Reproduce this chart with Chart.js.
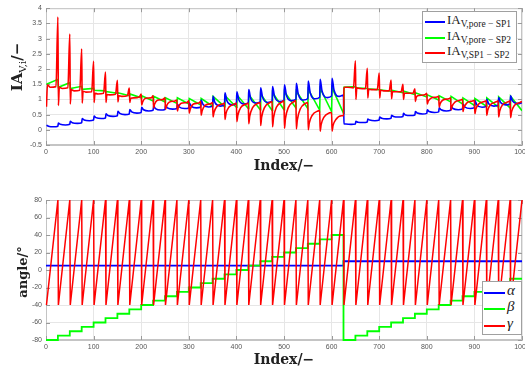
<!DOCTYPE html>
<html>
<head>
<meta charset="utf-8">
<script src="https://cdn.jsdelivr.net/npm/chart.js@4.4.1/dist/chart.umd.min.js"></script>
<style>
  html, body { margin: 0; padding: 0; background: #fff; }
  #page { position: relative; width: 525px; height: 372px; overflow: hidden; }
  canvas { position: absolute; left: 0; }
  #topChart { top: 0; }
  #botChart { top: 180px; }
  .title { position: absolute; font-family: "DejaVu Serif", serif; font-weight: bold; font-size: 14px; color: #222; white-space: nowrap; transform: translate(-50%, -50%); }
  .title sub { font-weight: normal; font-size: 10px; }
  .ytitle { transform: translate(-50%, -50%) rotate(-90deg); }
  .legend { position: absolute; background: #fff; border: 1px solid #a0a0a0; box-sizing: border-box; }
  .legend .ln { position: absolute; height: 2px; }
  .legend .tx { position: absolute; font-family: "Liberation Serif", serif; font-size: 13px; line-height: 13px; color: #222; white-space: nowrap; }
  .legend .tx sub { font-size: 9.5px; vertical-align: -3px; line-height: 0; }
  .legend .gr { font-style: italic; font-size: 15px; }
</style>
</head>
<body>
<div id="page">
  <canvas id="topChart" width="545" height="160"></canvas>
  <canvas id="botChart" width="545" height="175"></canvas>

  <div class="title" style="left:284px;top:165px">Index/−</div>
  <div class="title ytitle" style="left:18px;top:67px;font-size:15px">IA<sub>V,i</sub>/−</div>
  <div class="title" style="left:284px;top:359px">Index/−</div>
  <div class="title ytitle" style="left:22px;top:272px;font-size:13px">angle/°</div>

  <div class="legend" style="left:422px;top:11px;width:95px;height:52px">
    <div class="ln" style="left:2px;top:9px;width:20px;background:#0000ff"></div>
    <div class="tx" style="left:24px;top:1px">IA<sub>V,pore − SP1</sub></div>
    <div class="ln" style="left:2px;top:25px;width:20px;background:#00ff00"></div>
    <div class="tx" style="left:24px;top:17px">IA<sub>V,pore − SP2</sub></div>
    <div class="ln" style="left:2px;top:40px;width:20px;background:#ff0000"></div>
    <div class="tx" style="left:24px;top:32px">IA<sub>V,SP1 − SP2</sub></div>
  </div>

  <div class="legend" style="left:482px;top:281px;width:40px;height:54px">
    <div class="ln" style="left:1px;top:10px;width:21px;background:#0000ff"></div>
    <div class="tx gr" style="left:24px;top:2px">α</div>
    <div class="ln" style="left:1px;top:26px;width:21px;background:#00ff00"></div>
    <div class="tx gr" style="left:24px;top:18px">β</div>
    <div class="ln" style="left:1px;top:43px;width:21px;background:#ff0000"></div>
    <div class="tx gr" style="left:24px;top:35px">γ</div>
  </div>
</div>

<script>
/* ---------- data: one entry per 25-step cycle ---------- */
const cycleStarts = [0, 25, 50, 75, 100, 125, 150, 175, 200, 225, 250, 275, 300, 325, 350, 375, 400, 425, 450, 475,
  500, 525, 550, 575, 600, 625, 650, 675, 700, 725, 750, 775, 800, 825, 850, 875, 900, 925, 950, 975];

// IA_V,SP1-SP2 (red): after the drop, recovering, mid cycle, late cycle, peak at cycle end
const redLow = [0.76, 0.80, 0.85, 0.88, 0.90, 0.90, 0.92, 0.90, 0.82, 0.72, 0.68, 0.62, 0.55, 0.48, 0.42, 0.34, 0.27, 0.20, 0.14, 0.10,
  0.05, 0.03, 0.00, -0.05, -0.04, 1.37, 1.00, 1.05, 1.05, 1.02, 1.00, 0.93, 0.85, 0.75, 0.65, 0.60, 0.53, 0.47, 0.42, 0.40];
const redRec = [1.48, 1.40, 1.32, 1.27, 1.20, 1.16, 1.12, 1.04, 0.92, 0.84, 0.78, 0.74, 0.68, 0.63, 0.58, 0.53, 0.48, 0.45, 0.42, 0.40,
  0.37, 0.33, 0.22, 0.17, 0.14, 1.40, 1.38, 1.33, 1.30, 1.25, 1.20, 1.08, 0.94, 0.86, 0.77, 0.73, 0.68, 0.64, 0.61, 0.59];
const redMid = [1.40, 1.36, 1.28, 1.24, 1.18, 1.15, 1.10, 1.05, 1.04, 0.97, 0.91, 0.87, 0.84, 0.80, 0.77, 0.74, 0.73, 0.73, 0.73, 0.74,
  0.73, 0.68, 0.47, 0.42, 0.34, 1.40, 1.36, 1.32, 1.28, 1.25, 1.20, 1.13, 1.04, 0.98, 0.91, 0.88, 0.85, 0.83, 0.82, 0.80];
const redPre = [1.42, 1.38, 1.30, 1.25, 1.20, 1.17, 1.12, 1.08, 1.05, 1.00, 0.95, 0.90, 0.88, 0.86, 0.85, 0.85, 0.85, 0.88, 0.90, 0.92,
  0.93, 0.88, 0.62, 0.56, 0.46, 1.38, 1.35, 1.32, 1.28, 1.25, 1.20, 1.15, 1.08, 1.02, 0.98, 0.95, 0.93, 0.92, 0.92, 0.90];
const redTop = [3.71, 3.15, 2.66, 2.25, 1.90, 1.63, 1.37, 1.18, 1.12, 1.05, 0.98, 0.95, 0.93, 0.90, 0.88, 0.88, 0.88, 0.90, 0.93, 0.95,
  0.96, 0.90, 0.63, 0.57, 0.47, 2.27, 2.02, 1.87, 1.64, 1.50, 1.35, 1.20, 1.10, 1.05, 1.00, 0.97, 0.95, 0.95, 0.95, 0.93];

// IA_V,pore-SP2 (green): start and end of each cycle
const greenStart = [1.50, 1.40, 1.36, 1.33, 1.30, 1.26, 1.22, 1.18, 1.12, 1.10, 1.05, 1.05, 1.03, 1.03, 1.10, 1.12, 1.15, 1.16, 1.18, 1.22,
  1.25, 1.27, 1.33, 1.36, 1.38, 1.40, 1.38, 1.35, 1.32, 1.30, 1.27, 1.22, 1.15, 1.12, 1.10, 1.05, 1.03, 1.05, 1.08, 1.10];
const greenEnd = [1.66, 1.55, 1.43, 1.36, 1.28, 1.20, 1.12, 1.05, 0.95, 0.92, 0.87, 0.85, 0.82, 0.78, 0.76, 0.74, 0.70, 0.66, 0.64, 0.66,
  0.72, 0.70, 0.65, 0.60, 0.55, 1.42, 1.36, 1.32, 1.27, 1.22, 1.16, 1.08, 0.98, 0.92, 0.85, 0.80, 0.78, 0.75, 0.72, 0.63];

// IA_V,pore-SP1 (blue): peak after the jump, decay, trough, value at cycle end
const bluePeak = [0.15, 0.22, 0.28, 0.37, 0.45, 0.53, 0.61, 0.67, 0.74, 0.78, 0.80, 0.84, 0.88, 0.98, 1.10, 1.22, 1.25, 1.32, 1.38, 1.42,
  1.48, 1.53, 1.60, 1.66, 1.69, 0.20, 0.28, 0.35, 0.42, 0.48, 0.54, 0.60, 0.66, 0.72, 0.78, 0.84, 0.96, 1.00, 1.06, 1.12];
const blueMid = [0.12, 0.18, 0.235, 0.325, 0.40, 0.47, 0.54, 0.59, 0.66, 0.70, 0.72, 0.75, 0.78, 0.83, 0.89, 0.96, 0.99, 1.03, 1.07, 1.10,
  1.14, 1.17, 1.22, 1.27, 1.31, 0.19, 0.25, 0.32, 0.38, 0.44, 0.49, 0.55, 0.60, 0.66, 0.70, 0.75, 0.82, 0.86, 0.90, 0.95];
const blueLow = [0.10, 0.16, 0.21, 0.30, 0.37, 0.44, 0.50, 0.55, 0.62, 0.65, 0.68, 0.70, 0.72, 0.75, 0.78, 0.82, 0.85, 0.88, 0.90, 0.93,
  0.96, 0.98, 1.02, 1.06, 1.10, 0.18, 0.24, 0.30, 0.36, 0.42, 0.47, 0.52, 0.57, 0.62, 0.66, 0.70, 0.74, 0.78, 0.82, 0.86];
const blueEnd = [0.12, 0.18, 0.23, 0.32, 0.39, 0.46, 0.52, 0.57, 0.64, 0.67, 0.70, 0.72, 0.75, 0.78, 0.82, 0.86, 0.89, 0.92, 0.94, 0.97,
  1.00, 1.03, 1.07, 1.11, 1.14, 0.19, 0.26, 0.32, 0.38, 0.44, 0.49, 0.54, 0.59, 0.64, 0.69, 0.73, 0.77, 0.81, 0.85, 0.89];

// angles (deg), held constant over each cycle
const alphaDeg = [5, 5, 5, 5, 5, 5, 5, 5, 5, 5, 5, 5, 5, 5, 5, 5, 5, 5, 5, 5,
  5, 5, 5, 5, 5, 10, 10, 10, 10, 10, 10, 10, 10, 10, 10, 10, 10, 10, 10, 10];
const betaDeg = [-80, -75, -70, -65, -60, -55, -50, -45, -40, -35, -30, -25, -20, -15, -10, -5, 0, 5, 10, 15,
  20, 25, 30, 35, 40, -80, -75, -70, -65, -60, -55, -50, -45, -40, -35, -30, -25, -20, -15, -10];
const gammaLow = -40, gammaHigh = 80;   // gamma sweeps -40 -> 80 inside every cycle

// axes
const indexTicks = [0, 100, 200, 300, 400, 500, 600, 700, 800, 900, 1000];
const iaTicks = [-0.5, 0, 0.5, 1, 1.5, 2, 2.5, 3, 3.5, 4];
const angleTicks = [-80, -60, -40, -20, 0, 20, 40, 60, 80];
const indexEnd = 1000;

/* ---------- build points ---------- */
const redPts = [], greenPts = [], bluePts = [];
const alphaPts = [], betaPts = [], gammaPts = [];
cycleStarts.forEach((b, k) => {
  redPts.push({ x: b + 1, y: redLow[k] }, { x: b + 3, y: redRec[k] }, { x: b + 9, y: redMid[k] },
              { x: b + 21, y: redPre[k] }, { x: b + 25, y: redTop[k] });
  greenPts.push({ x: b + 1, y: greenStart[k] }, { x: b + 25, y: greenEnd[k] });
  bluePts.push({ x: b + 1, y: bluePeak[k] }, { x: b + 5, y: blueMid[k] }, { x: b + 16, y: blueLow[k] }, { x: b + 25, y: blueEnd[k] });
  alphaPts.push({ x: b, y: alphaDeg[k] });
  betaPts.push({ x: b, y: betaDeg[k] });
  gammaPts.push({ x: b + 1, y: gammaLow }, { x: b + 25, y: gammaHigh });
});
alphaPts.push({ x: indexEnd, y: alphaDeg[alphaDeg.length - 1] });
betaPts.push({ x: indexEnd, y: betaDeg[betaDeg.length - 1] });

/* ---------- shared look ---------- */
const tickFont = { family: '"Liberation Sans", Arial, sans-serif', size: 7 };
const tickColor = '#555';
const gridColor = '#e6e6e6';

// MATLAB-ish box with inward ticks, drawn under the lines
const boxFrame = {
  id: 'boxFrame',
  beforeDatasetsDraw(chart) {
    const { ctx, chartArea: a, scales } = chart;
    ctx.save();
    ctx.strokeStyle = '#c4c4c4';
    ctx.lineWidth = 1;
    ctx.strokeRect(a.left + 0.5, a.top + 0.5, a.right - a.left - 1, a.bottom - a.top - 1);
    ctx.strokeStyle = '#9a9a9a';
    ctx.beginPath();
    scales.x.ticks.forEach(t => {
      const px = Math.round(scales.x.getPixelForValue(t.value)) + 0.5;
      ctx.moveTo(px, a.bottom); ctx.lineTo(px, a.bottom - 4);
      ctx.moveTo(px, a.top); ctx.lineTo(px, a.top + 4);
    });
    scales.y.ticks.forEach(t => {
      const py = Math.round(scales.y.getPixelForValue(t.value)) + 0.5;
      ctx.moveTo(a.left, py); ctx.lineTo(a.left + 4, py);
      ctx.moveTo(a.right, py); ctx.lineTo(a.right - 4, py);
    });
    ctx.stroke();
    ctx.restore();
  }
};

function axisX() {
  return {
    type: 'linear', min: 0, max: indexEnd,
    afterBuildTicks: s => { s.ticks = indexTicks.map(v => ({ value: v })); },
    afterFit: s => { s.height = 15; },
    ticks: { font: tickFont, color: tickColor, padding: 3, maxRotation: 0, autoSkip: false, callback: v => String(v) },
    grid: { color: gridColor, drawTicks: false },
    border: { color: '#c4c4c4' }
  };
}
function axisY(min, max, list) {
  return {
    min, max,
    afterBuildTicks: s => { s.ticks = list.map(v => ({ value: v })); },
    afterFit: s => { s.width = 46; },
    ticks: { font: tickFont, color: tickColor, padding: 4, autoSkip: false, callback: v => String(v) },
    grid: { color: gridColor, drawTicks: false },
    border: { color: '#c4c4c4' }
  };
}
const baseOpts = {
  responsive: false,
  animation: false,
  devicePixelRatio: 1,
  events: [],
  plugins: { legend: { display: false }, tooltip: { enabled: false } },
  elements: { point: { radius: 0 } }
};

/* ---------- top: IA ---------- */
new Chart(document.getElementById('topChart'), {
  type: 'line',
  data: {
    datasets: [
      { label: 'IA V,pore-SP1', data: bluePts, borderColor: '#0000ff', borderWidth: 1.6, cubicInterpolationMode: 'monotone', order: 1 },
      { label: 'IA V,pore-SP2', data: greenPts, borderColor: '#00ff00', borderWidth: 1.6, tension: 0, order: 2 },
      { label: 'IA V,SP1-SP2', data: redPts, borderColor: '#ff0000', borderWidth: 1.6, cubicInterpolationMode: 'monotone', order: 0 }
    ]
  },
  options: {
    ...baseOpts,
    layout: { padding: { left: 0, right: 23, top: 6, bottom: 0 } },
    scales: { x: axisX(), y: axisY(-0.5, 4, iaTicks) }
  },
  plugins: [boxFrame]
});

/* ---------- bottom: angles ---------- */
new Chart(document.getElementById('botChart'), {
  type: 'line',
  data: {
    datasets: [
      { label: 'alpha', data: alphaPts, borderColor: '#0000ff', borderWidth: 1.8, stepped: 'before', clip: 3, order: 2 },
      { label: 'beta', data: betaPts, borderColor: '#00ff00', borderWidth: 1.8, stepped: 'before', clip: 3, order: 1 },
      { label: 'gamma', data: gammaPts, borderColor: '#ff0000', borderWidth: 1.5, tension: 0, clip: 3, order: 0 }
    ]
  },
  options: {
    ...baseOpts,
    layout: { padding: { left: 0, right: 23, top: 20, bottom: 0 } },
    scales: { x: axisX(), y: axisY(-80, 80, angleTicks) }
  },
  plugins: [boxFrame]
});
</script>
</body>
</html>
